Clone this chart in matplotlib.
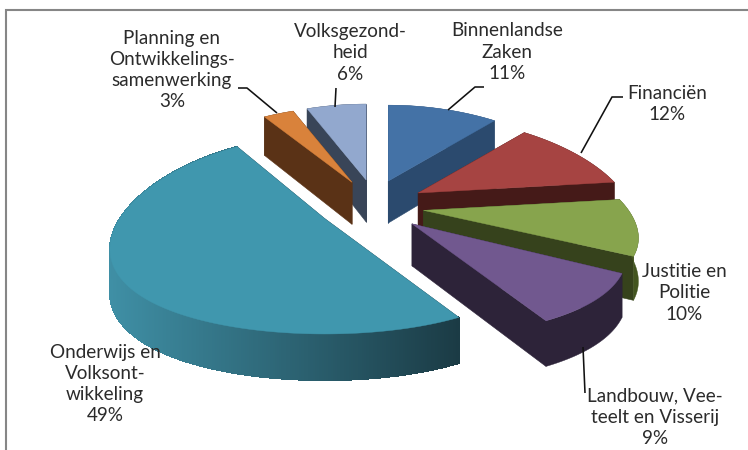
import numpy as np
import matplotlib
matplotlib.use("Agg")
import matplotlib.pyplot as plt
from matplotlib.collections import PolyCollection
from matplotlib.colors import to_rgb

# data (clockwise from 12 o'clock)
categories = ["Binnenlandse\nZaken", "Financiën", "Justitie en\nPolitie",
              "Landbouw, Vee-\nteelt en Visserij", "Onderwijs en\nVolksont-\nwikkeling",
              "Planning en\nOntwikkelings-\nsamenwerking", "Volksgezond-\nheid"]
values = [11, 12, 10, 9, 49, 3, 6]

# styles
top_colors = ["#4472A6", "#A64442", "#87A44D", "#71588F", "#4097AE", "#D9823B", "#92A8CE"]
cut_colors = ["#2B4A6E", "#451A18", "#36421C", "#2D2339", "#1C3C46", "#5A3216", "#394558"]
rim_start = ["#2B4A6E", "#451A18", "#43551F", "#2D2339", "#3F8FA5", "#5A3216", "#394558"]
rim_end = ["#2B4A6E", "#451A18", "#43551F", "#2D2339", "#1B3B45", "#5A3216", "#394558"]
draw_order = [6, 5, 0, 1, 2, 3, 4]

# layout (pixels in the 748x450 canvas)
CX, CY = 374, 205.5
A, B, PX, PY = 205, 88, 0.30, 0.16
EX, EY = 42, 26
H = 42
explode_x = [1, 1.2, 1.2, 1.28, 1.36, 1.15, 1]
scale_y = [1, 1, 1, 1.08, 1.1, 1, 1]
label_xy = [(507, 52), (667, 104), (684, 293), (655, 417), (105, 384), (172, 70), (350, 53)]
leaders = [[(484, 87), (475, 87), (448, 110)],
           [(623, 97), (612, 97), (581, 153)],
           None,
           [(585, 393), (583, 347)],
           None,
           [(238, 88), (247, 88), (277, 113)],
           [(336, 88), (335, 107)]]

fig = plt.figure(figsize=(7.48, 4.5), dpi=100)
ax = fig.add_axes([0, 0, 1, 1])
ax.set_xlim(0, 748)
ax.set_ylim(450, 0)
ax.axis("off")

edges = np.cumsum([0] + values) / sum(values) * 2 * np.pi


def project(theta, sy):
    u, v = np.sin(theta), np.cos(theta)
    return A * u / (1 + PX * v), -B * sy * v / (1 + PY * v), H * (1 - 0.1 * v)


for i in draw_order:
    t0, t1 = edges[i], edges[i + 1]
    mid = (t0 + t1) / 2
    ox = CX + EX * explode_x[i] * np.sin(mid)
    oy = CY - EY * np.cos(mid)
    th = np.linspace(t0, t1, max(int((t1 - t0) * 60), 6))
    dx, dy, dh = project(th, scale_y[i])
    xs, ys = ox + dx, oy + dy
    # cut faces
    for j in (0, -1):
        quad = [(ox, oy), (xs[j], ys[j]), (xs[j], ys[j] + dh[j]), (ox, oy + H)]
        ax.fill(*zip(*quad), color=cut_colors[i], lw=0.4, zorder=2)
    # outer rim: solid underlay, then a horizontal gradient when the colours differ
    c0, c1 = np.array(to_rgb(rim_start[i])), np.array(to_rgb(rim_end[i]))
    ax.fill(np.r_[xs, xs[::-1]], np.r_[ys, (ys + dh)[::-1]], color=rim_start[i], lw=0.3, zorder=2)
    if rim_start[i] != rim_end[i]:
        th2 = np.linspace(t0, t1, 400)
        dx2, dy2, dh2 = project(th2, scale_y[i])
        x2, y2 = ox + dx2, oy + dy2
        quads, cols = [], []
        for k in range(len(th2) - 1):
            quads.append([(x2[k], y2[k]), (x2[k + 1], y2[k + 1]),
                          (x2[k + 1], y2[k + 1] + dh2[k + 1]), (x2[k], y2[k] + dh2[k])])
            cols.append(c0 + (c1 - c0) * (x2[k] - x2.min()) / (x2.max() - x2.min()))
        ax.add_collection(PolyCollection(quads, facecolors=cols, edgecolors=cols,
                                         lw=0.6, antialiased=False, zorder=2))
    # top
    ax.fill(np.r_[ox, xs], np.r_[oy, ys], color=top_colors[i], lw=0.3, zorder=2)

# leaders
for pts in leaders:
    if pts:
        ax.plot(*zip(*pts), color="#111111", lw=1.15, zorder=3, solid_capstyle="butt")

# labels
for name, val, (x, y) in zip(categories, values, label_xy):
    ax.text(x, y, f"{name}\n{val}%", ha="center", va="center", family="Lato",
            fontsize=13.6, color="#2b2b2b", linespacing=1.3, zorder=4)

# frame: only left and top sides are in view
ax.plot([6.5, 6.5, 748], [450, 10, 10], color="#868686", lw=1.5, zorder=5, solid_joinstyle="miter")

fig.savefig("out.png", dpi=100)
